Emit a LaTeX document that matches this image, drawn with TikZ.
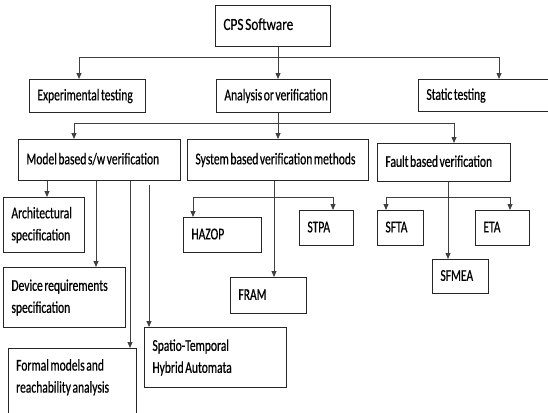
\documentclass[tikz,border=0pt]{standalone}
\usepackage{fontspec}
\setmainfont{Carlito}[FakeStretch=0.70, WordSpace=0.6, FakeBold=0.6]
\newfontfamily\cpsfont{Carlito}[FakeStretch=0.78, WordSpace=0.6, FakeBold=0.4]
\usetikzlibrary{arrows.meta}
\newcommand\dlbl{\fontsize{16.5}{22}\selectfont}
\newcommand\lb[2]{\makebox[#1pt][l]{\begin{tabular}{@{}l@{}}#2\end{tabular}}}
\tikzset{
  bx/.style 2 args={draw=black!85, line width=0.9pt, anchor=north west,
    inner xsep=8pt, inner ysep=0pt, minimum width=#1pt, minimum height=#2pt, font=\dlbl},
  cn/.style={draw=black!75, line width=0.8pt},
  ar/.style={cn, -{Triangle[length=6pt,width=5pt]}},
}
\begin{document}
\begin{tikzpicture}[x=1pt,y=-1pt]
\useasboundingbox (0,0) rectangle (548,412);
\clip (0,0) rectangle (548,412);
\fill[white] (0,0) rectangle (548,412);
% boxes
\node[bx={115}{41}, font=\cpsfont\fontsize{17}{20}\selectfont] (cps) at (215,5) {\lb{99}{CPS Software}};
\node[bx={116}{33}] (exp) at (29,79) {\lb{100}{Experimental testing}};
\node[bx={114}{33}] (ana) at (216,79) {\lb{98}{Analysis or verification}};
\node[bx={142}{32}] (sta) at (418,79) {\lb{126}{Static testing}};
\node[bx={162}{41}] (mod) at (18,139) {\lb{146}{Model based s/w verification}};
\node[bx={181}{41}] (sys) at (187,139) {\lb{165}{System based verification methods}};
\node[bx={133}{38}] (flt) at (377,143) {\lb{117}{Fault based verification}};
\node[bx={81}{55}] (arc) at (3,197) {\lb{65}{Architectural\\specification}};
\node[bx={122}{60}] (dev) at (3,267) {\lb{106}{Device requirements\\specification}};
\node[bx={128}{72}] (frm) at (8,348) {};
\node[font=\dlbl, anchor=north west, inner sep=0pt] (frmtxt) at (16,355) {\lb{112}{Formal models and\\reachability analysis}};
\node[bx={142}{60}] (spt) at (144,327) {\lb{126}{Spatio-Temporal\\Hybrid Automata}};
\node[bx={78}{35}] (haz) at (183,217) {\lb{62}{HAZOP}};
\node[bx={54}{35}] (stp) at (299,210) {\lb{38}{STPA}};
\node[bx={76}{36}] (fram) at (230,277) {\lb{60}{FRAM}};
\node[bx={46}{35}] (sfta) at (377,210) {\lb{30}{SFTA}};
\node[bx={54}{35}] (eta) at (475,210) {\lb{38}{ETA}};
\node[bx={56}{34}] (sfm) at (432,259) {\lb{40}{SFMEA}};
% level 1 connectors
\coordinate (t0) at (278,57);
\coordinate (tl) at (79,57);
\coordinate (tr) at (499,57);
\draw[cn] (t0 |- cps.south) -- (t0);
\draw[ar] (t0) -- (t0 |- ana.north);
\draw[ar] (t0) -- (tl) -- (tl |- exp.north);
\draw[ar] (t0) -- (tr) -- (tr |- sta.north);
% level 2 connectors
\coordinate (s0) at (278,123);
\coordinate (sl) at (74,123);
\coordinate (sr) at (454,123);
\draw[cn] (s0 |- ana.south) -- (s0);
\draw[ar] (s0) -- (s0 |- sys.north);
\draw[ar] (s0) -- (sl) -- (sl |- mod.north);
\draw[ar] (s0) -- (sr) -- (sr |- flt.north);
% model based drops
\coordinate (m1) at (47,180);
\coordinate (m2) at (96,180);
\coordinate (m3) at (130,180);
\coordinate (m4) at (149,185);
\draw[ar] (mod.south -| m1) -- (m1 |- arc.north);
\draw[ar] (mod.south -| m2) -- (m2 |- dev.north);
\draw[ar] (mod.south -| m3) -- (m3 |- frm.north);
\draw[ar] (m4) -- (m4 |- spt.north);
% system based
\coordinate (y0) at (274,197);
\coordinate (yl) at (193,197);
\coordinate (yr) at (333,197);
\draw[ar] (sys.south -| y0) -- (y0 |- fram.north);
\draw[ar] (y0) -- (yl) -- (yl |- haz.north);
\draw[ar] (y0) -- (yr) -- (yr |- stp.north);
% fault based
\coordinate (f0) at (448,197);
\coordinate (fl) at (386,197);
\coordinate (fr) at (510,197);
\draw[ar] (flt.south -| f0) -- (f0 |- sfm.north);
\draw[ar] (f0) -- (fl) -- (fl |- sfta.north);
\draw[ar] (f0) -- (fr) -- (fr |- eta.north);
\end{tikzpicture}
\end{document}
